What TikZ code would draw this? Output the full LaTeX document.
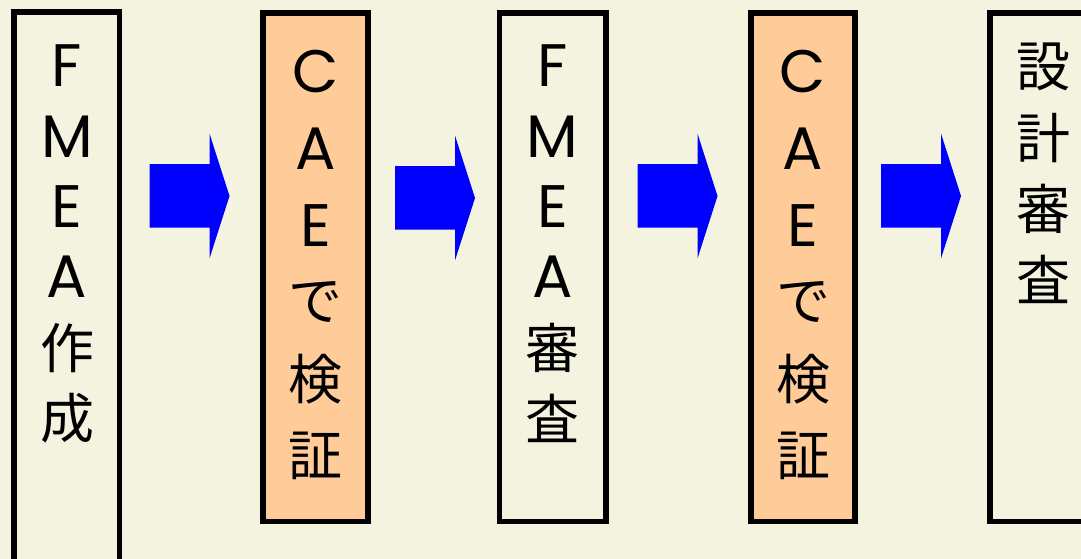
\documentclass[tikz,border=0pt]{standalone}
\usepackage{fontspec}
\newfontfamily\jpfont{Noto Sans CJK JP}
\newfontfamily\latfont{Poppins}
\definecolor{bgcol}{RGB}{243,243,224}
\definecolor{peach}{RGB}{255,204,153}
\definecolor{arrowblue}{RGB}{0,0,255}
\begin{document}
\begin{tikzpicture}[x=1pt,y=-1pt,
  stepbox/.style={draw=black,line width=5.5pt},
  glyph/.style={font=\jpfont\fontsize{54}{54}\selectfont,inner sep=0pt,anchor=center},
  latglyph/.style={font=\latfont\fontsize{60}{60}\selectfont,inner sep=0pt,anchor=center},
  blockarrow/.style={fill=arrowblue,draw=none}]
\useasboundingbox (0,0) rectangle (1081,559);
\fill[bgcol] (0,0) rectangle (1081,559);
% boxes
\draw[stepbox] (14,12) rectangle (119.5,600);
\draw[stepbox,fill=peach] (263,13) rectangle (368,521.5);
\draw[stepbox] (499.5,13) rectangle (606,521.5);
\draw[stepbox,fill=peach] (751,13) rectangle (855,521.5);
\draw[stepbox] (990,13) rectangle (1110,521.5);
% arrows
\foreach \x/\dy in {149.5/0,395/2,637.5/0,881/0}{
  \fill[blockarrow] (\x,164+\dy) -- (\x+60,164+\dy) -- (\x+60,133.5+\dy) -- (\x+80,196+\dy)
     -- (\x+60,258.5+\dy) -- (\x+60,227.5+\dy) -- (\x,227.5+\dy) -- cycle;
}
% texts
\foreach \c [count=\i from 0] in {F,M,E,A}
  \node[latglyph] (ta\i) at (67,66+70.4*\i) {\c};
\foreach \c [count=\i from 4] in {作,成}
  \node[glyph] (ta\i) at (67,66+70.4*\i) {\c};
\foreach \c [count=\i from 0] in {C,A,E}
  \node[latglyph] (tb\i) at (315.5,72+76.8*\i) {\c};
\foreach \c [count=\i from 3] in {で,検,証}
  \node[glyph] (tb\i) at (315.5,72+76.8*\i) {\c};
\foreach \c [count=\i from 0] in {F,M,E,A}
  \node[latglyph] (tc\i) at (552.5,66+70.4*\i) {\c};
\foreach \c [count=\i from 4] in {審,査}
  \node[glyph] (tc\i) at (552.5,66+70.4*\i) {\c};
\foreach \c [count=\i from 0] in {C,A,E}
  \node[latglyph] (td\i) at (803,72+76.8*\i) {\c};
\foreach \c [count=\i from 3] in {で,検,証}
  \node[glyph] (td\i) at (803,72+76.8*\i) {\c};
\foreach \c [count=\i from 0] in {設,計,審,査}
  \node[glyph] (te\i) at (1043,67+70.7*\i) {\c};
\end{tikzpicture}
\end{document}
